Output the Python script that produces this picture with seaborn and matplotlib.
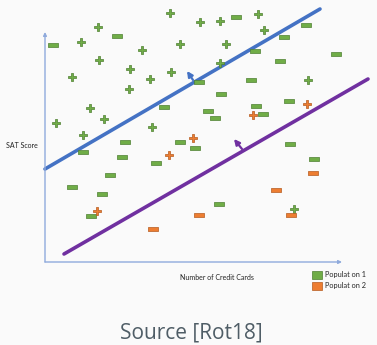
import numpy as np
import pandas as pd
import matplotlib
matplotlib.use("Agg")
import matplotlib.pyplot as plt
from matplotlib.patches import Patch
import seaborn as sns

# Points (credit cards, SAT score) in arbitrary units
green_plus_x = [53, 36, 125, 135, 97, 54, 85, 126, 27, 105, 84, 45, 59, 11, 107, 38,
                155, 175, 213, 219, 181, 175, 263, 249]
green_plus_y = [235, 220, 249, 218, 212, 202, 193, 190, 185, 183, 173, 154, 143, 139, 135, 127,
                240, 241, 248, 232, 218, 199, 182, 53]
green_minus_x = [8, 72, 119, 191, 261, 239, 210, 235, 291, 154, 206, 176, 244, 163, 211, 170,
                 218, 80, 135, 150, 38, 77, 111, 65, 27, 57, 46, 245, 269, 174]
green_minus_y = [217, 226, 155, 245, 237, 225, 211, 201, 208, 180, 182, 168, 161, 151, 156, 144,
                 148, 120, 120, 114, 110, 105, 99, 87, 75, 68, 46, 118, 103, 58]
orange_plus_x = [262, 208, 148, 124, 52]
orange_plus_y = [158, 147, 124, 107, 51]
orange_minus_x = [108, 268, 231, 154, 246]
orange_minus_y = [33, 89, 72, 47, 47]

# Separating lines and their normal arrows
blue_line_x = [0, 275]
blue_line_y = [93, 253]
purple_line_x = [19, 323]
purple_line_y = [8, 183]
blue_arrow = [(148, 182), (142, 191)]
purple_arrow = [(197, 113), (189, 123)]

x_axis_end = 297
y_axis_end = 230

GREEN, GREEN_EDGE = "#70AD47", "#4E7F30"
ORANGE, ORANGE_EDGE = "#ED7D31", "#B45A1E"
BG = "#FAFAFA"

sns.set_style("white")
plt.rcParams["font.family"] = ["Lato", "DejaVu Sans"]

fig = plt.figure(figsize=(3.77, 3.45), dpi=100, facecolor=BG)
ax = fig.add_axes([0, 0, 1, 1])
ax.set_facecolor(BG)
ax.set_xlim(-45, 332)
ax.set_ylim(-83, 262)
ax.axis("off")

# axes drawn as arrows
axis_color = "#8FAADC"
for end in [(0, y_axis_end), (x_axis_end, 0)]:
    ax.annotate("", xy=end, xytext=(0, 0),
                arrowprops=dict(arrowstyle="-|>", color=axis_color, lw=1.0,
                                mutation_scale=5, shrinkA=0, shrinkB=0))

sns.lineplot(x=blue_line_x, y=blue_line_y, color="#4472C4", lw=2.6, ax=ax)
sns.lineplot(x=purple_line_x, y=purple_line_y, color="#7030A0", lw=2.6, ax=ax)
for (start, end), col in [(blue_arrow, "#4472C4"), (purple_arrow, "#7030A0")]:
    ax.annotate("", xy=end, xytext=start,
                arrowprops=dict(arrowstyle="-|>", color=col, lw=1.6, mutation_scale=8,
                                shrinkA=0, shrinkB=0))

minus_marker = [(-1, -0.33), (1, -0.33), (1, 0.33), (-1, 0.33), (-1, -0.33)]

sets = [
    (green_plus_x, green_plus_y, "P", 36, GREEN, GREEN_EDGE),
    (green_minus_x, green_minus_y, minus_marker, 50, GREEN, GREEN_EDGE),
    (orange_plus_x, orange_plus_y, "P", 36, ORANGE, ORANGE_EDGE),
    (orange_minus_x, orange_minus_y, minus_marker, 50, ORANGE, ORANGE_EDGE),
]
for xs, ys, mk, size, fc, ec in sets:
    sns.scatterplot(x=xs, y=ys, marker=mk, s=size, color=fc, edgecolor=ec,
                    linewidth=0.5, ax=ax, legend=False, zorder=3)

ax.text(-23, 117, "SAT Score", fontsize=5, ha="center", va="center", color="#222222")
ax.text(172, -16, "Number of Credit Cards", fontsize=5, ha="center", va="center",
        color="#222222")

handles = [Patch(facecolor=GREEN, edgecolor=GREEN_EDGE, lw=0.5, label="Populat on 1"),
           Patch(facecolor=ORANGE, edgecolor=ORANGE_EDGE, lw=0.5, label="Populat on 2")]
fig.legend(handles=handles, loc="upper left", bbox_to_anchor=(312 / 377, 1 - 271 / 345),
           frameon=False, fontsize=5.3, handlelength=1.3, handleheight=1.3,
           handletextpad=0.4, labelspacing=0.4, borderpad=0, borderaxespad=0)

fig.text(191 / 377, 1 - 333 / 345, "Source [Rot18]", fontsize=15, ha="center", va="center",
         color="#4F5D66", family=["Open Sans", "DejaVu Sans"])

fig.savefig("out.png", dpi=100, facecolor=BG)
